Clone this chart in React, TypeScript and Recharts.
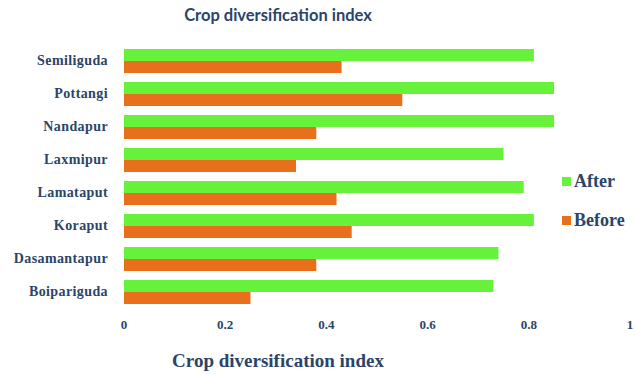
import { Bar, BarChart, XAxis, YAxis } from "recharts"

const blocks = [
  "Semiliguda",
  "Pottangi",
  "Nandapur",
  "Laxmipur",
  "Lamataput",
  "Koraput",
  "Dasamantapur",
  "Boipariguda",
]
const after = [0.81, 0.85, 0.85, 0.75, 0.79, 0.81, 0.74, 0.73]
const before = [0.43, 0.55, 0.38, 0.34, 0.42, 0.45, 0.38, 0.25]
const xTicks = [0, 0.2, 0.4, 0.6, 0.8, 1]

const data = blocks.map((block, i) => ({ block, After: after[i], Before: before[i] }))

const GREEN = "#66F23A"
const ORANGE = "#E8701C"
const TEXT = "#2B4468"
const serif = "'Liberation Serif', 'Times New Roman', serif"

const series = [
  { key: "After", color: GREEN },
  { key: "Before", color: ORANGE },
]

export default function App() {
  return (
    <div
      style={{
        position: "absolute",
        top: 0,
        left: 0,
        width: 636,
        height: 375,
        overflow: "hidden",
        background: "#fff",
      }}
    >
      <div
        style={{
          position: "absolute",
          top: 5,
          left: 0,
          width: 556,
          textAlign: "center",
          fontFamily: "Lato, 'Open Sans', sans-serif",
          fontWeight: "bold",
          fontSize: 16.5,
          color: TEXT,
        }}
      >
        Crop diversification index
      </div>
      <BarChart
        width={636}
        height={375}
        data={data}
        layout="vertical"
        margin={{ top: 44, right: 6, bottom: 40, left: 0 }}
        barGap={0}
        barSize={12}
      >
        <XAxis
          type="number"
          domain={[0, 1]}
          ticks={xTicks}
          interval={0}
          tickFormatter={(v: number) => String(v)}
          axisLine={false}
          tickLine={false}
          tickMargin={6}
          height={27}
          tick={{ fill: TEXT, fontFamily: serif, fontWeight: "bold", fontSize: 13 }}
        />
        <YAxis
          type="category"
          dataKey="block"
          width={124}
          axisLine={false}
          tickLine={false}
          tickMargin={10}
          tick={{ fill: TEXT, fontFamily: serif, fontWeight: "bold", fontSize: 14, letterSpacing: 0.4 }}
        />
        {series.map((s) => (
          <Bar key={s.key} dataKey={s.key} fill={s.color} isAnimationActive={false} />
        ))}
      </BarChart>
      <div
        style={{
          position: "absolute",
          left: 562,
          top: 162,
          fontFamily: serif,
          fontWeight: "bold",
          fontSize: 18,
          color: TEXT,
        }}
      >
        {series.map((s) => (
          <div key={s.key} style={{ display: "flex", alignItems: "center", height: 39 }}>
            <span style={{ width: 9, height: 9, background: s.color, marginRight: 3, display: "inline-block" }} />
            {s.key}
          </div>
        ))}
      </div>
      <div
        style={{
          position: "absolute",
          top: 350,
          left: 0,
          width: 556,
          textAlign: "center",
          fontFamily: serif,
          fontWeight: "bold",
          fontSize: 19,
          color: TEXT,
        }}
      >
        Crop diversification index
      </div>
    </div>
  )
}
